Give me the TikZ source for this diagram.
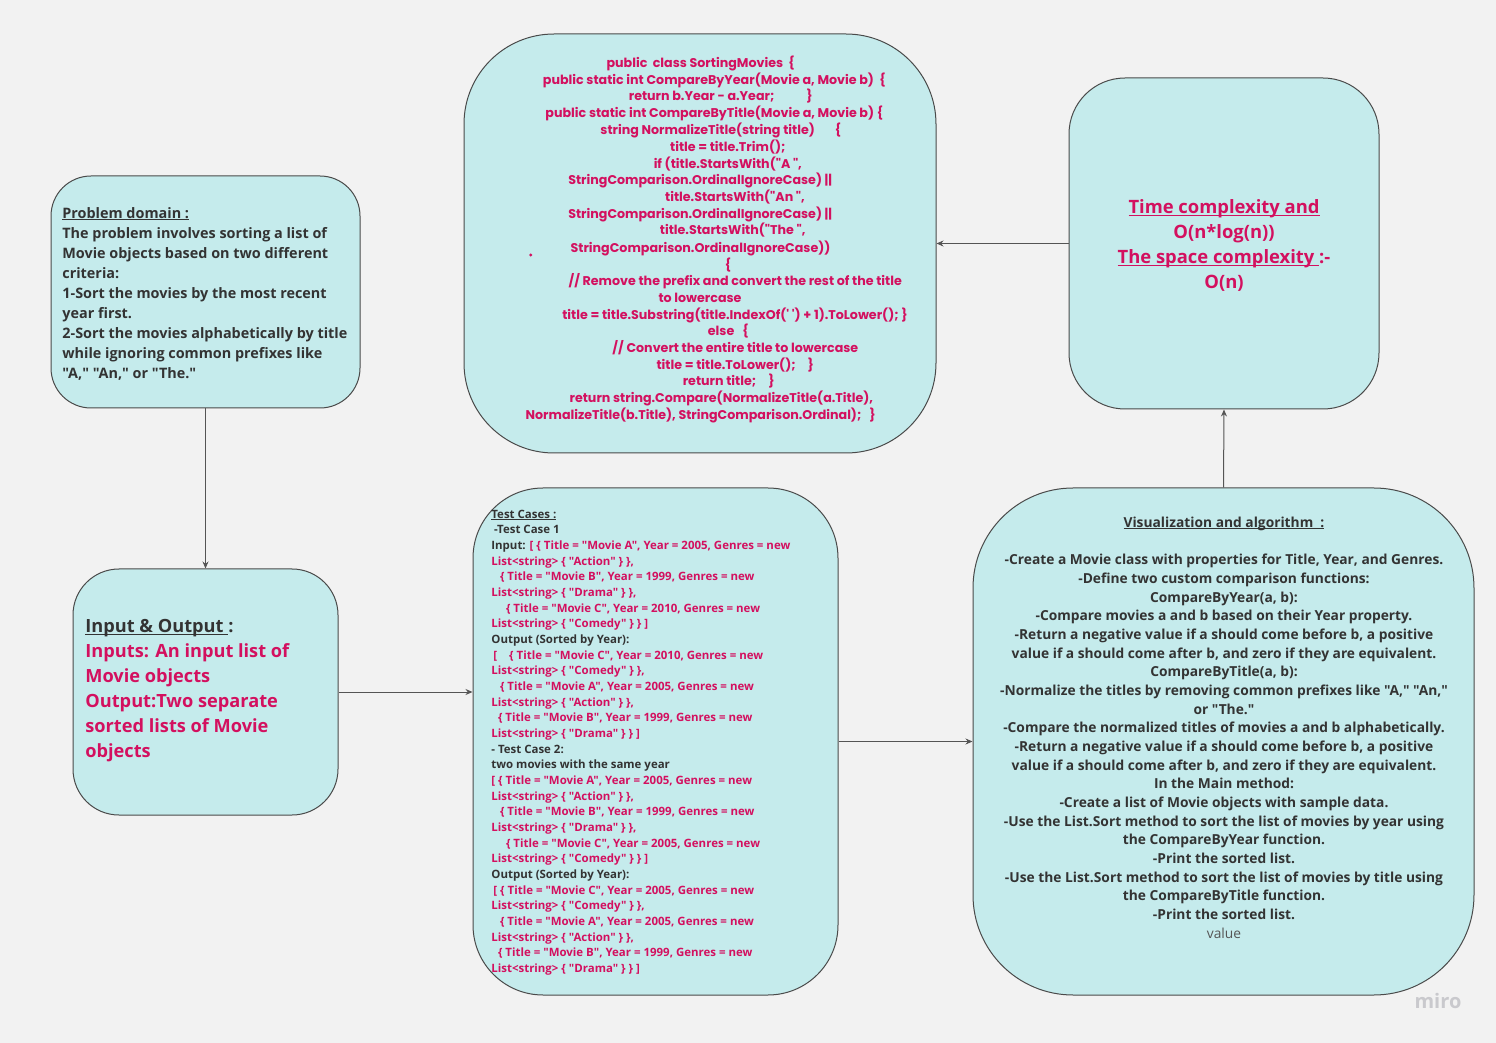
\documentclass[tikz,border=0pt]{standalone}
\usepackage{fontspec}
\setmainfont{Open Sans}[Ligatures=TeXOff]
\newfontfamily\codefont{Poppins}[Ligatures=TeXOff]
\usetikzlibrary{arrows.meta}
\definecolor{bg}{HTML}{F2F2F2}
\definecolor{boxfill}{HTML}{C5EBEC}
\definecolor{boxline}{HTML}{4A4A4A}
\definecolor{pinktext}{HTML}{D3105F}
\definecolor{darktext}{HTML}{333333}
\definecolor{linecol}{HTML}{555555}
\definecolor{valuegrey}{HTML}{555555}
\definecolor{mirogrey}{HTML}{C9C9CD}
\newcommand{\ulx}[1]{\setbox0\hbox{#1}\rlap{\rule[-0.13em]{\wd0}{0.065em}}\box0}
\begin{document}
\begin{tikzpicture}[x=0.5pt,y=-0.5pt,
  box/.style={draw=boxline, fill=boxfill, line width=0.5pt, inner sep=0pt},
  arr/.style={draw=linecol, line width=0.5pt, -{Stealth[length=3.5pt,width=3pt]}},
  codeln/.style={anchor=base, inner sep=0pt, text=pinktext, font=\codefont\bfseries\fontsize{6.33}{8.4}\selectfont},
  txt/.style={inner sep=0pt, font=\bfseries}
]
\useasboundingbox (0,0) rectangle (1496,1043);
\fill[bg] (0,0) rectangle (1496,1043);

% boxes
\node[box, minimum width=154.5pt, minimum height=116pt, rounded corners=20pt] (pd) at (205.5,292) {};
\node[box, minimum width=132.5pt, minimum height=123pt, rounded corners=23pt] (io) at (205.5,692) {};
\node[box, minimum width=236pt, minimum height=209.5pt, rounded corners=45pt] (code) at (700,243.5) {};
\node[box, minimum width=182.5pt, minimum height=253.5pt, rounded corners=35pt] (tc) at (655.5,741.5) {};
\node[box, minimum width=250.5pt, minimum height=253.5pt, rounded corners=50pt] (vis) at (1223.5,741.5) {};
\node[box, minimum width=155pt, minimum height=165.5pt, rounded corners=28pt] (tcx) at (1224,243.5) {};

% connectors
\draw[arr] (pd.south) -- (io.north);
\draw[arr] (io.east) -- (io.east -| tc.west);
\draw[arr] (tc.east) -- (vis.west);
\draw[arr] (vis.north) -- (tcx.south);
\draw[arr] (tcx.west) -- (code.east);

% problem domain
\node[txt, anchor=north west, align=left, text=darktext, font=\bfseries\fontsize{7.2}{10}\selectfont] (pdtext) at (62,207)
{\ulx{Problem domain :}\\
The problem involves sorting a list of\\
Movie objects based on two different\\
criteria:\\
1-Sort the movies by the most recent\\
year first.\\
2-Sort the movies alphabetically by title\\
while ignoring common prefixes like\\
"A," "An," or "The."};

% input output
\node[txt, anchor=north west, align=left, text=pinktext, font=\bfseries\fontsize{9.1}{12.5}\selectfont] (iotext) at (85,619)
{\textcolor{darktext}{\ulx{Input \& Output\ }:}\\
Inputs: An input list of\\
Movie objects\\
Output:Two separate\\
sorted lists of Movie\\
objects};

% time complexity
\node[txt, anchor=north, align=center, text=pinktext, font=\bfseries\fontsize{9.2}{12.5}\selectfont] (tcxtext) at (1224,199.5)
{\ulx{Time complexity and}\\
O(n*log(n))\\
\ulx{The space complexity\ }:-\\
O(n)};

% visualization
\node[txt, anchor=north, align=center, text=darktext, font=\bfseries\fontsize{6.89}{9.34}\selectfont] (vistext) at (1224,516.5)
{\ulx{Visualization and algorithm\ \ :}\\
\mbox{}\\
-Create a Movie class with properties for Title, Year, and Genres.\\
-Define two custom comparison functions:\\
CompareByYear(a, b):\\
-Compare movies a and b based on their Year property.\\
-Return a negative value if a should come before b, a positive\\
value if a should come after b, and zero if they are equivalent.\\
CompareByTitle(a, b):\\
-Normalize the titles by removing common prefixes like "A," "An,"\\
or "The."\\
-Compare the normalized titles of movies a and b alphabetically.\\
-Return a negative value if a should come before b, a positive\\
value if a should come after b, and zero if they are equivalent.\\
In the Main method:\\
-Create a list of Movie objects with sample data.\\
-Use the List.Sort method to sort the list of movies by year using\\
the CompareByYear function.\\
-Print the sorted list.\\
-Use the List.Sort method to sort the list of movies by title using\\
the CompareByTitle function.\\
-Print the sorted list.\\
\textcolor{valuegrey}{\mdseries value}};

% test cases
\node[txt, anchor=north west, align=left, text=pinktext, font=\bfseries\fontsize{5.73}{7.83}\selectfont] (tctext) at (491,509.5)
{\textcolor{darktext}{\ulx{Test Cases :}}\\
\hspace*{1.3pt}\textcolor{darktext}{-Test Case 1}\\
\textcolor{darktext}{Input:} [ \{ Title = "Movie A", Year = 2005, Genres = new\\
List<string> \{ "Action" \} \},\\
\hspace*{4.3pt}\{ Title = "Movie B", Year = 1999, Genres = new\\
List<string> \{ "Drama" \} \},\\
\hspace*{7.3pt}\{ Title = "Movie C", Year = 2010, Genres = new\\
List<string> \{ "Comedy" \} \} ]\\
\textcolor{darktext}{Output (Sorted by Year):}\\
\hspace*{1pt}[\hspace{6pt}\{ Title = "Movie C", Year = 2010, Genres = new\\
List<string> \{ "Comedy" \} \},\\
\hspace*{4.3pt}\{ Title = "Movie A", Year = 2005, Genres = new\\
List<string> \{ "Action" \} \},\\
\hspace*{3.3pt}\{ Title = "Movie B", Year = 1999, Genres = new\\
List<string> \{ "Drama" \} \} ]\\
\textcolor{darktext}{- Test Case 2:}\\
\textcolor{darktext}{two movies with the same year}\\
{}[ \{ Title = "Movie A", Year = 2005, Genres = new\\
List<string> \{ "Action" \} \},\\
\hspace*{4.3pt}\{ Title = "Movie B", Year = 1999, Genres = new\\
List<string> \{ "Drama" \} \},\\
\hspace*{7.3pt}\{ Title = "Movie C", Year = 2005, Genres = new\\
List<string> \{ "Comedy" \} \} ]\\
\textcolor{darktext}{Output (Sorted by Year):}\\
\hspace*{1pt}[ \{ Title = "Movie C", Year = 2005, Genres = new\\
List<string> \{ "Comedy" \} \},\\
\hspace*{4.3pt}\{ Title = "Movie A", Year = 2005, Genres = new\\
List<string> \{ "Action" \} \},\\
\hspace*{3.3pt}\{ Title = "Movie B", Year = 1999, Genres = new\\
List<string> \{ "Drama" \} \} ]};

% code lines
\node[codeln] (c1) at (700.7,67.5) {public\ \ class SortingMovies\ \ \{};
\node[codeln] (c2) at (714.3,85) {public static int CompareByYear(Movie a, Movie b)\ \ \{};
\node[codeln] (c3) at (720.8,101) {return b.Year - a.Year;\hspace{16pt}\}};
\node[codeln] (c4) at (714.3,117.5) {public static int CompareByTitle(Movie a, Movie b) \{};
\node[codeln] (c5) at (720.8,134.2) {string NormalizeTitle(string title)\hspace{10pt}\{};
\node[codeln] (c6) at (727.8,151.5) {title = title.Trim();};
\node[codeln] (c7) at (727.8,168.2) {if (title.StartsWith("A ",};
\node[codeln] (c8) at (700.2,185) {StringComparison.OrdinalIgnoreCase) ||};
\node[codeln] (c9) at (735,201.2) {title.StartsWith("An ",};
\node[codeln] (c10) at (700.2,218.2) {StringComparison.OrdinalIgnoreCase) ||};
\node[codeln] (c11) at (732.7,235) {title.StartsWith("The ",};
\node[codeln] (c12) at (700.5,252.5) {StringComparison.OrdinalIgnoreCase))};
\node[codeln] (c13) at (728,269.2) {\{};
\node[codeln] (c14) at (735.2,286) {// Remove the prefix and convert the rest of the title};
\node[codeln] (c15) at (700,302.5) {to lowercase};
\node[codeln] (c16) at (735,319.2) {title = title.Substring(title.IndexOf(' ') + 1).ToLower(); \}};
\node[codeln] (c17) at (728.3,336) {else\ \ \ \{};
\node[codeln] (c18) at (735.3,352.5) {// Convert the entire title to lowercase};
\node[codeln] (c19) at (735.3,369.2) {title = title.ToLower();\hspace{6pt}\}};
\node[codeln] (c20) at (728.7,386) {return title;\hspace{6pt}\}};
\node[codeln] (c21) at (721.3,402.5) {return string.Compare(NormalizeTitle(a.Title),};
\node[codeln] (c22) at (700.7,419.2) {NormalizeTitle(b.Title), StringComparison.Ordinal);\ \ \ \}};
\fill[pinktext] (530.7,255) circle (0.8pt);

% watermark
\node[inner sep=0pt, text=mirogrey, font=\bfseries\fontsize{10}{12}\selectfont] (miro) at (1438,1001) {miro};
\end{tikzpicture}
\end{document}
